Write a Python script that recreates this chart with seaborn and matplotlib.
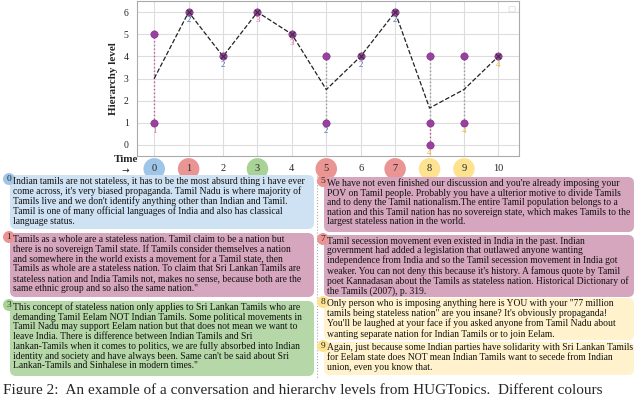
import matplotlib
matplotlib.use("Agg")
import matplotlib.pyplot as plt
import matplotlib.transforms as mtransforms
from matplotlib.patches import FancyBboxPatch, Circle
import seaborn as sns
import pandas as pd

# points of the hierarchy chart
times = [0, 0, 1, 2, 3, 4, 5, 5, 6, 7, 8, 8, 8, 9, 9, 10]
levels = [5, 1, 6, 4, 6, 5, 4, 1, 4, 6, 4, 1, 0, 4, 1, 4]

# speaker number shown under each time step
steps = list(range(11))
speakers = [1, 2, 2, 3, 3, 2, 2, 2, 4, 4, 4]
speaker_colors = {1: "#e0788c", 2: "#4a6fb0", 3: "#e0569c", 4: "#e8b040"}

# vertical range segments (time, low, high, colour)
seg_t = [0, 5, 8, 8, 9]
seg_lo = [1, 1, 1, 0, 1]
seg_hi = [5, 4, 4, 1, 4]
seg_col = ["#c05aa0", "#999999", "#999999", "#b04a90", "#999999"]

# badges on x tick labels
tick_badges = {0: "#9fc5e8", 1: "#ea9494", 3: "#a9d396", 5: "#ea9494",
               7: "#ea9494", 8: "#fde38f", 9: "#fde38f"}

# comments
comment_ids = ["0", "1", "3", "5", "7", "8", "9"]
comment_texts = [
    "Indian tamils are not stateless, it has to be the most absurd thing i have ever\n"
    "come across, it's very biased propaganda. Tamil Nadu is where majority of\n"
    "Tamils live and we don't identify anything other than Indian and Tamil.\n"
    "Tamil is one of many official languages of India and also has classical\n"
    "language status.",
    "Tamils as a whole are a stateless nation. Tamil claim to be a nation but\n"
    "there is no sovereign Tamil state. If Tamils consider themselves a nation\n"
    "and somewhere in the world exists a movement for a Tamil state, then\n"
    "Tamils as whole are a stateless nation. To claim that Sri Lankan Tamils are\n"
    "stateless nation and India Tamils not, makes no sense, because both are the\n"
    "same ethnic group and so also the same nation.\"",
    "This concept of stateless nation only applies to Sri Lankan Tamils who are\n"
    "demanding Tamil Eelam NOT Indian Tamils. Some political movements in\n"
    "Tamil Nadu may support Eelam nation but that does not mean we want to\n"
    "leave India. There is difference between Indian Tamils and Sri\n"
    "lankan-Tamils when it comes to politics, we are fully absorbed into Indian\n"
    "identity and society and have always been. Same can't be said about Sri\n"
    "Lankan-Tamils and Sinhalese in modern times.\"",
    "We have not even finished our discussion and you're already imposing your\n"
    "POV on Tamil people. Probably you have a ulterior motive to divide Tamils\n"
    "and to deny the Tamil nationalism.The entire Tamil population belongs to a\n"
    "nation and this Tamil nation has no sovereign state, which makes Tamils to the\n"
    "largest stateless nation in the world.",
    "Tamil secession movement even existed in India in the past. Indian\n"
    "government had added a legislation that outlawed anyone wanting\n"
    "independence from India and so the Tamil secession movement in India got\n"
    "weaker. You can not deny this because it's history. A famous quote by Tamil\n"
    "poet Kannadasan about the Tamils as stateless nation. Historical Dictionary of\n"
    "the Tamils (2007), p. 319.",
    "Only person who is imposing anything here is YOU with your \"77 million\n"
    "tamils being stateless nation\" are you insane? It's obviously propaganda!\n"
    "You'll be laughed at your face if you asked anyone from Tamil Nadu about\n"
    "wanting separate nation for Indian Tamils or to join Eelam.",
    "Again, just because some Indian parties have solidarity with Sri Lankan Tamils\n"
    "for Eelam state does NOT mean Indian Tamils want to secede from Indian\n"
    "union, even you know that.",
]
comment_fill = ["#cfe2f3", "#d5a6bd", "#b6d7a8", "#d5a6bd", "#d5a6bd", "#fff2cc", "#fff2cc"]
badge_fill = ["#9fc5e8", "#ea9494", "#a9d396", "#ea9494", "#ea9494", "#fde38f", "#fde38f"]
# box geometry in pixels: left, top, right, bottom
box_geom = [(10, 175, 314, 229), (10, 233, 314, 297), (10, 301, 314, 376),
            (324, 177, 634, 232), (324, 235, 634, 297), (324, 298, 634, 340),
            (324, 342, 634, 375)]

caption = ("Figure 2:  An example of a conversation and hierarchy levels from HUGTopics.  "
           "Different colours")

W, H = 640, 394
sns.set_style("whitegrid")
plt.rcParams["font.family"] = ["Liberation Serif", "DejaVu Serif"]

fig = plt.figure(figsize=(6.4, 3.94), dpi=100)
pix = mtransforms.Affine2D().scale(1, -1).translate(0, H)

ax = fig.add_axes([137 / W, 1 - 156 / H, (519 - 137) / W, 155 / H])
df = pd.DataFrame({"time": times, "level": levels})

for t, lo, hi, c in zip(seg_t, seg_lo, seg_hi, seg_col):
    ax.plot([t, t], [lo, hi], color=c, ls=":", lw=1.0, zorder=2)

sns.lineplot(data=df, x="time", y="level", estimator="mean", errorbar=None,
             color="#222222", ls="--", lw=0.9, ax=ax, zorder=3)
sns.scatterplot(data=df, x="time", y="level", color="#9b3fa0", s=28,
                edgecolor="#7a2a80", linewidth=0.4, ax=ax, zorder=4)
single = df.groupby("time").filter(lambda g: len(g) == 1)
ax.scatter(single["time"], single["level"], marker="x", s=12, color="#333333",
           linewidth=0.8, zorder=5)

lowest = df.groupby("time")["level"].min()
for t, sp in zip(steps, speakers):
    ax.text(t, lowest[t] - 0.2, str(sp), color=speaker_colors[sp], fontsize=6.5,
            ha="center", va="top", zorder=6)

ax.set_xlim(-0.5, 10.6)
ax.set_ylim(-0.5, 6.5)
ax.set_xticks(steps)
ax.set_yticks(range(7))
ax.set_xlabel("")
ax.set_ylabel("Hierarchy level", fontsize=8, fontweight="bold", labelpad=4)
ax.tick_params(axis="x", labelsize=7.5, pad=6, length=0)
ax.tick_params(axis="y", labelsize=7, pad=3, length=3, color="#888888")
ax.grid(color="#dddddd", lw=0.8)
for s in ax.spines.values():
    s.set_color("#aaaaaa")
    s.set_linewidth(0.8)
for lab in ax.get_xticklabels():
    t = int(round(float(lab.get_position()[0])))
    if t in tick_badges:
        lab.set_bbox(dict(boxstyle="circle,pad=0.6", fc=tick_badges[t], ec="none"))

# tiny empty legend frame
ax.add_patch(FancyBboxPatch((0.974, 0.93), 0.016, 0.035, boxstyle="round,pad=0,rounding_size=0.004",
                            transform=ax.transAxes, fc="white", ec="#dddddd", lw=0.6, zorder=6))

fig.text(126, 159, "Time", transform=pix, fontsize=8, fontweight="bold", ha="center", va="center")
fig.text(125, 170, "\u2192", transform=pix, fontsize=6.5, ha="center", va="center",
         family=["DejaVu Sans"])

# comment boxes
for cid, txt, fc, bc, (l, t, r, b) in zip(comment_ids, comment_texts, comment_fill,
                                            badge_fill, box_geom):
    fig.patches.append(FancyBboxPatch((l, t), r - l, b - t,
                                      boxstyle="round,pad=0,rounding_size=6",
                                      transform=pix, fc=fc, ec="none", zorder=1))
    fig.patches.append(Circle((l - 1, t + 4), 6, transform=pix, fc=bc, ec="none", zorder=2))
    fig.text(l - 1, t + 4, cid, transform=pix, fontsize=6.8, ha="center", va="center", zorder=3)
    fig.text(l + 3, t + 1.5, txt, transform=pix, fontsize=6.95, linespacing=1.08,
             ha="left", va="top", color="#111111", zorder=3)

fig.add_artist(plt.Line2D([317, 317], [176, 378], transform=pix, color="#aaaaaa",
                          ls=":", lw=0.8))

fig.text(3, 383, caption, transform=pix, fontsize=11, ha="left", va="top")

fig.savefig("out.png", dpi=100)
